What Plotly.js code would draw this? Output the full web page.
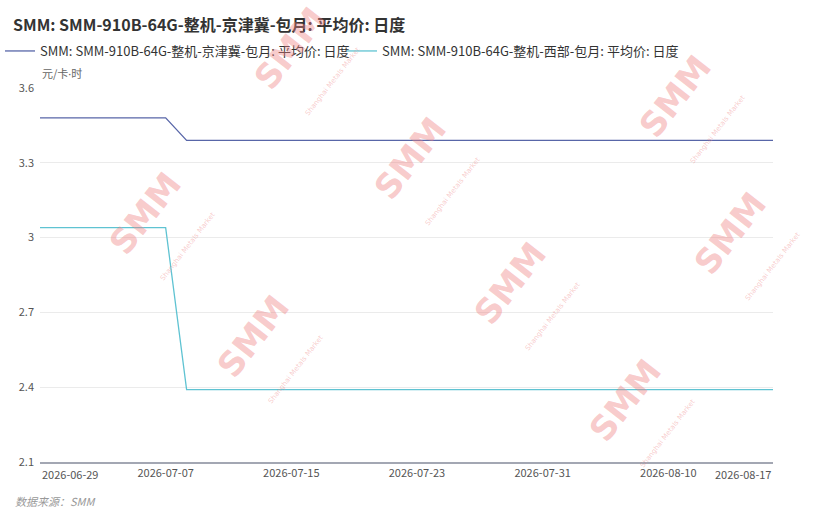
<!DOCTYPE html>
<html>
<head>
<meta charset="utf-8">
<script src="https://cdn.plot.ly/plotly-3.0.1.min.js"></script>
<style>
html,body{margin:0;padding:0;background:#fff;}
#chart{width:820px;height:519px;}
</style>
</head>
<body>
<div id="chart"></div>
<script>
// ---- data ----
var dates = [
  "2026-06-29","2026-06-30","2026-07-01","2026-07-02","2026-07-03",
  "2026-07-06","2026-07-07","2026-07-08","2026-07-09","2026-07-10",
  "2026-07-13","2026-07-14","2026-07-15","2026-07-16","2026-07-17",
  "2026-07-20","2026-07-21","2026-07-22","2026-07-23","2026-07-24",
  "2026-07-27","2026-07-28","2026-07-29","2026-07-30","2026-07-31",
  "2026-08-03","2026-08-04","2026-08-05","2026-08-06","2026-08-07",
  "2026-08-10","2026-08-11","2026-08-12","2026-08-13","2026-08-14",
  "2026-08-17"
];
var jingjinji = [
  3.48,3.48,3.48,3.48,3.48,
  3.48,3.48,3.39,3.39,3.39,
  3.39,3.39,3.39,3.39,3.39,
  3.39,3.39,3.39,3.39,3.39,
  3.39,3.39,3.39,3.39,3.39,
  3.39,3.39,3.39,3.39,3.39,
  3.39,3.39,3.39,3.39,3.39,
  3.39
];
var xibu = [
  3.04,3.04,3.04,3.04,3.04,
  3.04,3.04,2.39,2.39,2.39,
  2.39,2.39,2.39,2.39,2.39,
  2.39,2.39,2.39,2.39,2.39,
  2.39,2.39,2.39,2.39,2.39,
  2.39,2.39,2.39,2.39,2.39,
  2.39,2.39,2.39,2.39,2.39,
  2.39
];
var seriesNames = [
  "SMM: SMM-910B-64G-整机-京津冀-包月: 平均价: 日度",
  "SMM: SMM-910B-64G-整机-西部-包月: 平均价: 日度"
];
var titleText = "SMM: SMM-910B-64G-整机-京津冀-包月: 平均价: 日度";
var unitText = "元/卡<span style='font-family:Noto Sans'>·</span>时";
var sourceText = "数据来源：SMM";
var midTicks = ["2026-07-07","2026-07-15","2026-07-23","2026-07-31","2026-08-10"];
var firstTick = "2026-06-29";
var lastTick = "2026-08-17";
var yTicks = [2.1,2.4,2.7,3.0,3.3,3.6];
var yTickText = ["2.1","2.4","2.7","3","3.3","3.6"];

// ---- layout helpers ----
var W = 820, H = 519;
var M = {l:40, r:47, t:88, b:57, autoexpand:false};
var PW = W - M.l - M.r, PH = H - M.t - M.b;
function px(x){ return (x - M.l) / PW; }
function py(y){ return (H - M.b - y) / PH; }

var FONT = "'Noto Sans CJK SC','Noto Sans',sans-serif";

var traces = [
  {x: dates, y: jingjinji, name: seriesNames[0], type: 'scatter', mode: 'lines',
   line: {color: '#5866a8', width: 1.3}},
  {x: dates, y: xibu, name: seriesNames[1], type: 'scatter', mode: 'lines',
   line: {color: '#5fc3d2', width: 1.3}}
];

// watermarks
var wmPos = [[305,60],[160,225],[425,170],[690,108],[525,295],[268,348],[640,412],[745,245]];
var annotations = [];
wmPos.forEach(function(p){
  annotations.push({
    xref:'paper', yref:'paper', x: px(p[0]), y: py(p[1]),
    xanchor:'center', yanchor:'middle', showarrow:false, textangle:-52,
    text:"<b>SMM</b><br><span style='font-size:7px'>Shanghai Metals Market</span>",
    font:{family:"'DejaVu Sans',sans-serif", size:34, color:'rgba(238,130,130,0.42)'}
  });
});
annotations.push({
  xref:'paper', yref:'paper', x: px(40), y: py(73), xanchor:'left', yanchor:'middle',
  showarrow:false, text: unitText, font:{family:FONT, size:11, color:'#666'}
});
annotations.push({
  xref:'paper', yref:'paper', x: px(13), y: py(501), xanchor:'left', yanchor:'middle',
  showarrow:false, text: "<i>"+sourceText+"</i>", font:{family:FONT, size:11, color:'#999'}
});
annotations.push({
  xref:'x', yref:'paper', x: firstTick, y: py(474), xanchor:'left', yanchor:'middle',
  showarrow:false, text: firstTick, font:{family:FONT, size:11, color:'#555'}
});
annotations.push({
  xref:'x', yref:'paper', x: lastTick, y: py(474), xanchor:'right', yanchor:'middle',
  showarrow:false, text: lastTick, font:{family:FONT, size:11, color:'#555'}
});

var layout = {
  width: W, height: H,
  margin: M,
  paper_bgcolor:'#fff', plot_bgcolor:'#fff',
  font:{family:FONT, size:11, color:'#555'},
  title:{text:"<b>"+titleText+"</b>", x: 13/W, xanchor:'left', xref:'container',
         y: 1-25/H, yanchor:'middle', yref:'container',
         font:{family:FONT, size:16, color:'#333'}},
  showlegend:true,
  legend:{orientation:'h', xref:'container', yref:'container', x: 0, xanchor:'left',
          y: 1-51/H, yanchor:'middle',
          font:{family:FONT, size:13, color:'#333'}, bgcolor:'rgba(0,0,0,0)',
          entrywidth: 297, entrywidthmode:'pixels', itemwidth:30, tracegroupgap:0},
  xaxis:{type:'category', range:[0, dates.length-1], tickmode:'array', tickvals: midTicks,
         ticktext: midTicks, showgrid:false, zeroline:false, showline:true,
         linecolor:'#a3a7b3', linewidth:1.5, ticks:'', tickfont:{size:11, color:'#555'},
         automargin:false},
  yaxis:{range:[2.1,3.6], tickmode:'array', tickvals: yTicks, ticktext: yTickText,
         showgrid:true, gridcolor:'#ebebeb', gridwidth:1, zeroline:false, showline:false,
         ticks:'', ticklabelstandoff:5, tickfont:{size:11, color:'#555'}, automargin:false},
  annotations: annotations
};

Plotly.newPlot('chart', traces, layout, {displayModeBar:false, staticPlot:true});
</script>
</body>
</html>
